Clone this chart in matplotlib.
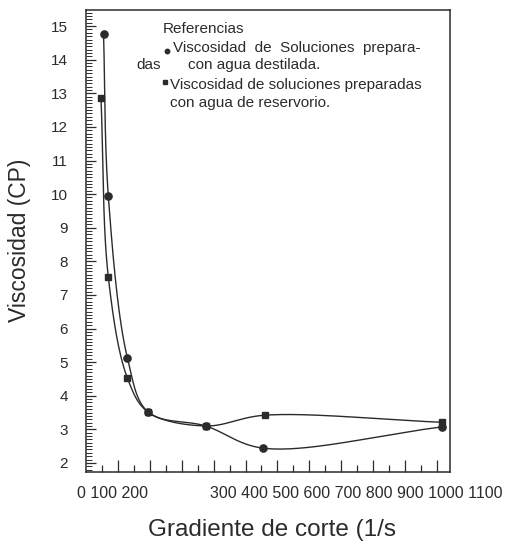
import numpy as np
import matplotlib
matplotlib.use('Agg')
import matplotlib.pyplot as plt
from matplotlib.ticker import MultipleLocator, FixedLocator, NullFormatter

plt.rcParams['font.family'] = ['Liberation Sans', 'DejaVu Sans']

# ---- data ----
x_destilada = [55, 70, 130, 195, 375, 555, 1115]
y_destilada = [14.76, 9.94, 5.12, 3.51, 3.10, 2.44, 3.07]
x_reservorio = [47, 70, 130, 195, 375, 560, 1115]
y_reservorio = [12.86, 7.53, 4.52, 3.51, 3.10, 3.42, 3.21]

y_ticks = list(range(2, 16))
x_major_ticks = [100, 200, 300, 400, 500, 600, 700, 800, 900, 1000, 1100]
x_labels_left = ['0', '100', '200']
x_labels_right = ['300', '400', '500', '600', '700', '800', '900', '1000', '1100']

INK = '#2b2b2b'
W, H = 507, 549

fig = plt.figure(figsize=(W / 100, H / 100), dpi=100)
ax = fig.add_axes([86 / W, 1 - 472 / H, (450 - 86) / W, (472 - 10) / H])
ax.set_xlim(0, 1141)
ax.set_ylim(1.73, 15.48)

sx = 364 / 1141
sy = 462 / (15.48 - 1.73)


def smooth(xs, ys, n=60):
    P = np.column_stack([np.asarray(xs, float) * sx, np.asarray(ys, float) * sy])
    P = np.vstack([2 * P[0] - P[1], P, 2 * P[-1] - P[-2]])
    out = []
    for i in range(1, len(P) - 2):
        p0, p1, p2, p3 = P[i - 1], P[i], P[i + 1], P[i + 2]
        t0 = 0.0
        t1 = t0 + np.linalg.norm(p1 - p0) ** 0.5
        t2 = t1 + np.linalg.norm(p2 - p1) ** 0.5
        t3 = t2 + np.linalg.norm(p3 - p2) ** 0.5
        t = np.linspace(t1, t2, n)[:, None]
        A1 = (t1 - t) / (t1 - t0) * p0 + (t - t0) / (t1 - t0) * p1
        A2 = (t2 - t) / (t2 - t1) * p1 + (t - t1) / (t2 - t1) * p2
        A3 = (t3 - t) / (t3 - t2) * p2 + (t - t2) / (t3 - t2) * p3
        B1 = (t2 - t) / (t2 - t0) * A1 + (t - t0) / (t2 - t0) * A2
        B2 = (t3 - t) / (t3 - t1) * A2 + (t - t1) / (t3 - t1) * A3
        C = (t2 - t) / (t2 - t1) * B1 + (t - t1) / (t2 - t1) * B2
        out.append(C if i == len(P) - 3 else C[:-1])
    C = np.vstack(out)
    return C[:, 0] / sx, C[:, 1] / sy


xd, yd = smooth(x_destilada, y_destilada)
xr, yr = smooth(x_reservorio, y_reservorio)
ax.plot(xd, yd, color=INK, lw=1.0)
ax.plot(xr, yr, color=INK, lw=1.0)
ax.plot(x_destilada, y_destilada, 'o', color=INK, ms=5.2, zorder=3)
ax.plot(x_reservorio, y_reservorio, 's', color=INK, ms=3.8, zorder=3)

for s in ax.spines.values():
    s.set_color(INK)
    s.set_linewidth(1.1)

ax.yaxis.set_major_locator(FixedLocator(y_ticks))
ax.yaxis.set_minor_locator(MultipleLocator(0.1))
ax.xaxis.set_major_locator(FixedLocator(x_major_ticks))
ax.xaxis.set_minor_locator(FixedLocator([t - 50 for t in x_major_ticks]))
ax.xaxis.set_major_formatter(NullFormatter())
ax.tick_params(axis='y', which='major', direction='in', length=7, width=0.9,
               color=INK, labelsize=11, labelcolor=INK, pad=13)
ax.tick_params(axis='y', which='minor', direction='in', length=4, width=0.7, color=INK)
ax.tick_params(axis='x', which='major', direction='in', length=9, width=0.9, color=INK)
ax.tick_params(axis='x', which='minor', direction='in', length=5, width=0.9, color=INK)

# x tick label strip (as printed in the original)
fig.text(77 / W, 1 - 493 / H, ' '.join(x_labels_left), fontsize=11.5, color=INK,
         ha='left', va='center')
fig.text(210 / W, 1 - 493 / H, ' '.join(x_labels_right), fontsize=11.5, color=INK,
         ha='left', va='center')

fig.text(20 / W, 1 - 240 / H, 'Viscosidad (CP)', rotation=90, fontsize=16.5,
         color=INK, ha='center', va='center')
fig.text(148 / W, 1 - 530 / H, 'Gradiente de corte (1/s', fontsize=17.5,
         color=INK, ha='left', va='center')

# legend block
fs = 11
fig.text(163 / W, 1 - 29 / H, 'Referencias', fontsize=fs, color=INK, va='center')
fig.text(173 / W, 1 - 48 / H, 'Viscosidad  de  Soluciones  prepara-', fontsize=fs,
         color=INK, va='center')
fig.text(136 / W, 1 - 65 / H, 'das', fontsize=fs, color=INK, va='center')
fig.text(188 / W, 1 - 65 / H, 'con agua destilada.', fontsize=fs, color=INK, va='center')
fig.text(170 / W, 1 - 85 / H, 'Viscosidad de soluciones preparadas', fontsize=fs,
         color=INK, va='center')
fig.text(170 / W, 1 - 103 / H, 'con agua de reservorio.', fontsize=fs, color=INK,
         va='center')
ax.plot([167 / W], [1 - 51 / H], 'o', color=INK, ms=3.2, transform=fig.transFigure,
        clip_on=False)
ax.plot([165 / W], [1 - 82 / H], 's', color=INK, ms=2.4, transform=fig.transFigure,
        clip_on=False)

fig.savefig('out.png', dpi=100)
